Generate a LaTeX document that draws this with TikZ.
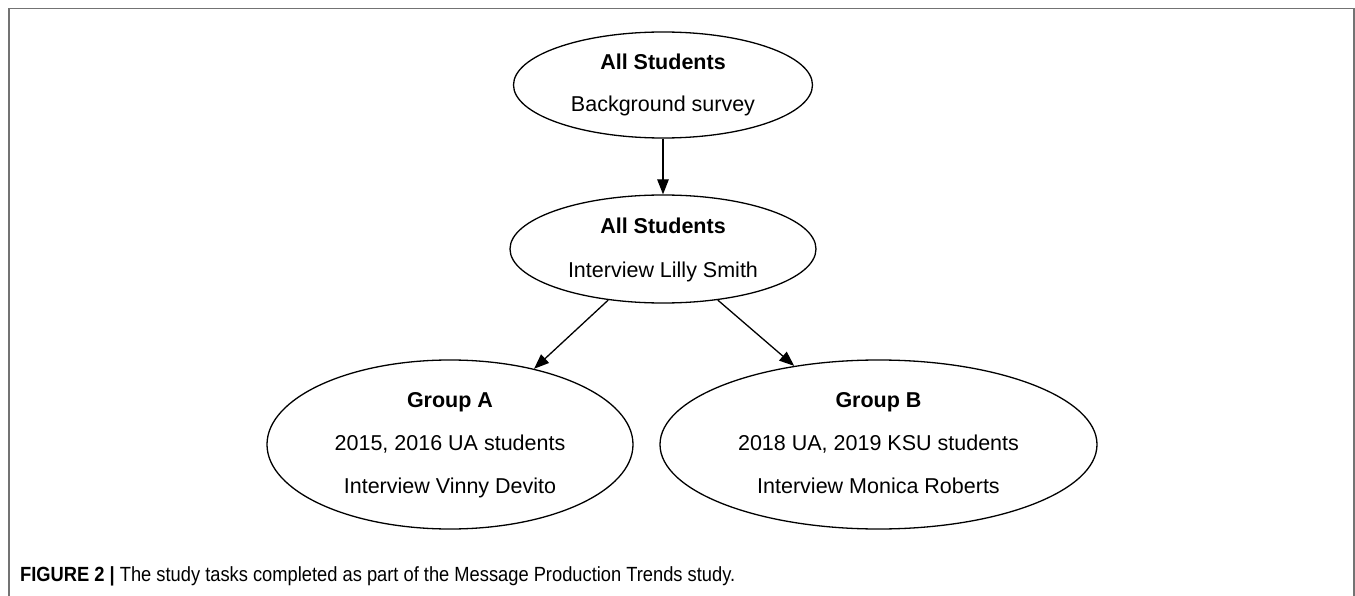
\documentclass[tikz,border=0pt]{standalone}
\usepackage{graphicx}
\usepackage{fontspec}
\setmainfont{Liberation Sans}
\usetikzlibrary{shapes.geometric,arrows.meta}
\begin{document}
\begin{tikzpicture}[x=1pt,y=-1pt,
  oval/.style={draw=black, line width=1.3pt, ellipse, inner sep=0pt},
  lbl/.style={anchor=base, inner sep=0pt, font=\fontsize{21.5}{25}\selectfont},
  bold lbl/.style={lbl, font=\fontsize{21.5}{25}\selectfont\bfseries},
  edge/.style={draw=black, line width=1.3pt, -{Triangle[length=15pt,width=11.5pt]}},
  frame/.style={draw=black!55, line width=1.6pt}
]
\useasboundingbox (0,0) rectangle (1355,596);
\draw[frame] (9,596) -- (9,8.5) -- (1354,8.5) -- (1354,596);

\node[oval, minimum width=299pt, minimum height=106pt] (e1) at (663,85) {};
\node[oval, minimum width=306pt, minimum height=108pt] (e2) at (663,249) {};
\node[oval, minimum width=366pt, minimum height=169pt] (e3) at (450,444.5) {};
\node[oval, minimum width=437pt, minimum height=169pt] (e4) at (878.5,444.5) {};

\node[bold lbl] (t1a) at (663,70) {All Students};
\node[lbl] (t1b) at (663,111.5) {Background survey};
\node[bold lbl] (t2a) at (663,233.5) {All Students};
\node[lbl] (t2b) at (663,277) {Interview Lilly Smith};
\node[bold lbl] (t3a) at (450,407.5) {Group A};
\node[lbl] (t3b) at (450,450.5) {2015, 2016 UA students};
\node[lbl] (t3c) at (450,493) {Interview Vinny Devito};
\node[bold lbl] (t4a) at (878.5,407.5) {Group B};
\node[lbl] (t4b) at (878.5,450.5) {2018 UA, 2019 KSU students};
\node[lbl] (t4c) at (878.5,493) {Interview Monica Roberts};

\draw[edge] (e1) -- (e2);
\draw[edge] (e2.223) -- (e3.42);
\draw[edge] (e2.317) -- (e4.137);

\node[anchor=base west, inner sep=0pt, font=\fontsize{20.5}{22}\selectfont] (cap) at (20,581)
  {\resizebox{715pt}{\height}{\textbf{FIGURE 2 |} The study tasks completed as part of the Message Production Trends study.}};
\end{tikzpicture}
\end{document}
